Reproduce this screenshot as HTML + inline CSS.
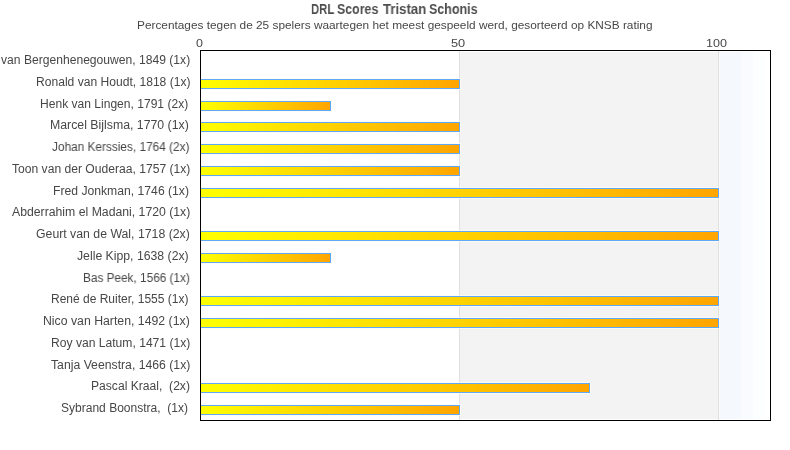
<!DOCTYPE html><html><head><meta charset="utf-8"><style>
*{margin:0;padding:0;box-sizing:border-box}
html,body{width:790px;height:450px;overflow:hidden;background:#fff}
body{position:relative;font-family:"Liberation Sans",sans-serif;color:#474747}
.t{position:absolute;white-space:nowrap;line-height:1;transform-origin:0 0;will-change:transform}
#frame{position:absolute;left:200px;top:50px;width:571px;height:371px;border:1px solid #000}
#gray{position:absolute;left:460px;top:52px;width:258px;height:367px;background:#f3f3f3}
#blue{position:absolute;left:719px;top:52px;width:46px;height:367px;background:#fdfeff}
.bb{position:absolute;top:0;height:367px}
.gl{position:absolute;top:51px;width:1px;height:369px;background:#e0e0e0}
.bar{position:absolute;left:201px;height:10px;border:1px solid #5ea8fa;border-left:none;background:linear-gradient(to right,#ffff00,#ffa500);box-shadow:0 0 0 1px rgba(255,250,242,.8)}
</style></head><body>
<div id="gray"></div><div id="blue"><div class="bb" style="left:0;width:1px;background:#f9fbfd"></div><div class="bb" style="left:1px;width:21px;background:#f5f9fd"></div><div class="bb" style="left:22px;width:12px;background:#f9fbfe"></div></div>
<div class="gl" style="left:459px"></div><div class="gl" style="left:718px"></div>
<div class="bar" style="top:79px;width:259px"></div>
<div class="bar" style="top:101px;width:130px"></div>
<div class="bar" style="top:122px;width:259px"></div>
<div class="bar" style="top:144px;width:259px"></div>
<div class="bar" style="top:166px;width:259px"></div>
<div class="bar" style="top:188px;width:518px"></div>
<div class="bar" style="top:231px;width:518px"></div>
<div class="bar" style="top:253px;width:130px"></div>
<div class="bar" style="top:296px;width:518px"></div>
<div class="bar" style="top:318px;width:518px"></div>
<div class="bar" style="top:383px;width:389px"></div>
<div class="bar" style="top:405px;width:259px"></div>
<div id="frame"></div>
<div class="t" id="tw0" style="font-weight:bold;font-size:14px;color:#4d4d4d;left:310.92px;top:2.00px;transform:scaleX(0.8089)">DRL</div>
<div class="t" id="tw1" style="font-weight:bold;font-size:14px;color:#4d4d4d;left:337.32px;top:2.00px;transform:scaleX(0.8842)">Scores</div>
<div class="t" id="tw2" style="font-weight:bold;font-size:14px;color:#4d4d4d;left:382.80px;top:2.00px;transform:scaleX(0.9434)">Tristan</div>
<div class="t" id="tw3" style="font-weight:bold;font-size:14px;color:#4d4d4d;left:429.41px;top:2.00px;transform:scaleX(0.8911)">Schonis</div>
<div class="t" id="sub" style="font-size:11px;left:136.53px;top:20.00px;transform:scaleX(1.0753)">Percentages tegen de 25 spelers waartegen het meest gespeeld werd, gesorteerd op KNSB rating</div>
<div class="t" id="ax0" style="font-size:11px;left:196.00px;top:38.00px;transform:scaleX(1.1329)">0</div>
<div class="t" id="ax50" style="font-size:11px;left:451.08px;top:38.00px;transform:scaleX(1.1613)">50</div>
<div class="t" id="ax100" style="font-size:11px;left:706.16px;top:38.00px;transform:scaleX(1.1414)">100</div>
<div class="t" id="l0" style="font-size:12px;left:0.88px;top:54.00px;transform:scaleX(1.0091)">van Bergenhenegouwen, 1849 (1x)</div>
<div class="t" id="l1" style="font-size:12px;left:35.51px;top:76.00px;transform:scaleX(1.0070)">Ronald van Houdt, 1818 (1x)</div>
<div class="t" id="l2" style="font-size:12px;left:40.41px;top:98.00px;transform:scaleX(1.0052)">Henk van Lingen, 1791 (2x)</div>
<div class="t" id="l3" style="font-size:12px;left:49.69px;top:119.00px;transform:scaleX(1.0252)">Marcel Bijlsma, 1770 (1x)</div>
<div class="t" id="l4" style="font-size:12px;left:52.35px;top:141.00px;transform:scaleX(0.9858)">Johan Kerssies, 1764 (2x)</div>
<div class="t" id="l5" style="font-size:12px;left:11.94px;top:163.00px;transform:scaleX(1.0089)">Toon van der Ouderaa, 1757 (1x)</div>
<div class="t" id="l6" style="font-size:12px;left:53.10px;top:185.00px;transform:scaleX(1.0144)">Fred Jonkman, 1746 (1x)</div>
<div class="t" id="l7" style="font-size:12px;left:11.96px;top:206.00px;transform:scaleX(1.0204)">Abderrahim el Madani, 1720 (1x)</div>
<div class="t" id="l8" style="font-size:12px;left:36.09px;top:228.00px;transform:scaleX(1.0232)">Geurt van de Wal, 1718 (2x)</div>
<div class="t" id="l9" style="font-size:12px;left:76.93px;top:250.00px;transform:scaleX(1.0207)">Jelle Kipp, 1638 (2x)</div>
<div class="t" id="l10" style="font-size:12px;left:83.34px;top:272.00px;transform:scaleX(0.9829)">Bas Peek, 1566 (1x)</div>
<div class="t" id="l11" style="font-size:12px;left:51.32px;top:293.00px;transform:scaleX(0.9989)">René de Ruiter, 1555 (1x)</div>
<div class="t" id="l12" style="font-size:12px;left:43.09px;top:315.00px;transform:scaleX(1.0231)">Nico van Harten, 1492 (1x)</div>
<div class="t" id="l13" style="font-size:12px;left:51.31px;top:337.00px;transform:scaleX(1.0088)">Roy van Latum, 1471 (1x)</div>
<div class="t" id="l14" style="font-size:12px;left:50.93px;top:359.00px;transform:scaleX(1.0190)">Tanja Veenstra, 1466 (1x)</div>
<div class="t" id="l15" style="font-size:12px;left:91.41px;top:380.00px;transform:scaleX(1.0094)">Pascal Kraal,&nbsp; (2x)</div>
<div class="t" id="l16" style="font-size:12px;left:61.02px;top:402.00px;transform:scaleX(1.0023)">Sybrand Boonstra,&nbsp; (1x)</div>
</body></html>
